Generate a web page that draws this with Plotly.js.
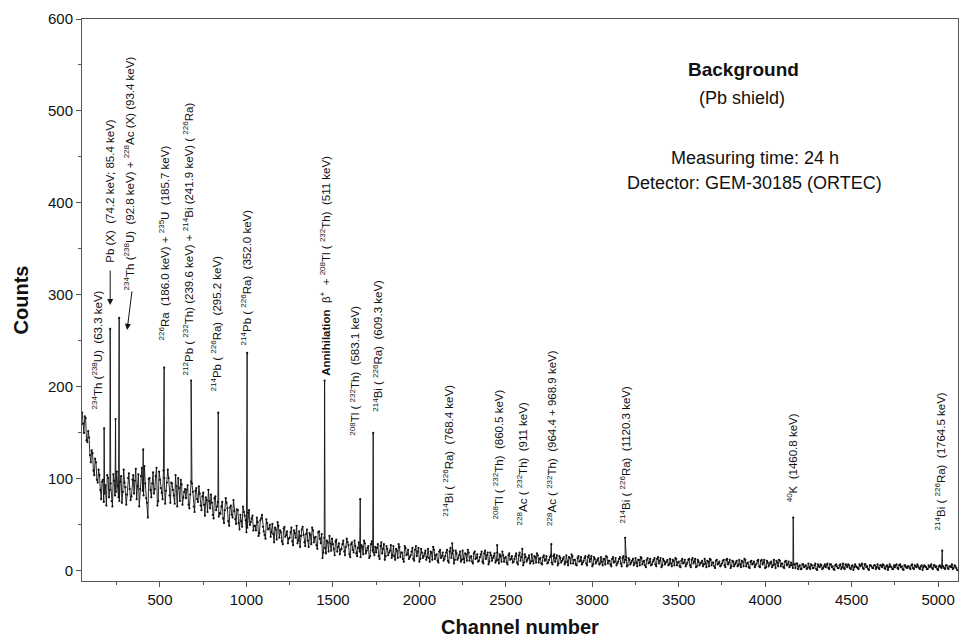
<!DOCTYPE html>
<html>
<head>
<meta charset="utf-8">
<script src="https://cdn.plot.ly/plotly-3.0.1.min.js"></script>
<style>html,body{margin:0;padding:0;background:#fff}</style>
</head>
<body>
<div id="chart" style="width:960px;height:639px"></div>
<script>
// Continuum counts, one value every 10 channels starting at channel 50
const startChannel = 50;
const channelStep = 10;
const counts = [
172,150,166,140,145,118,128,104,118,96,
104,78,99,84,71,101,88,76,105,82,
108,80,97,74,110,91,83,106,77,99,
84,111,92,70,103,87,114,79,58,101,
80,107,89,112,76,99,85,109,73,96,
101,74,95,82,104,70,90,99,72,86,
79,93,68,97,86,64,90,75,84,66,
85,60,77,88,68,74,57,81,70,59,
62,75,52,79,68,49,71,58,65,51,
66,45,54,70,60,42,63,50,57,44,
49,58,38,55,61,43,35,52,46,37,
51,31,45,53,36,42,29,48,39,30,
36,47,28,41,49,33,26,45,39,27,
45,26,39,47,31,37,24,43,30,14,
36,19,31,38,22,29,17,34,26,18,
24,33,17,35,28,15,31,20,27,16,
31,15,26,33,19,25,14,29,22,17,
20,29,13,31,24,12,27,17,22,14,
27,12,22,29,15,20,10,25,18,13,
17,25,11,27,21,10,24,14,19,12,
24,10,20,26,13,18,9,23,16,11,
16,23,9,25,19,8,22,12,17,10,
22,9,18,23,11,16,8,21,14,10,
15,21,8,22,17,7,20,11,16,9,
20,8,16,21,10,15,7,19,13,9,
13,19,7,20,15,6,18,10,14,8,
18,8,15,19,9,14,7,17,12,8,
12,17,7,18,14,6,16,9,13,7,
17,6,14,18,8,12,6,16,11,7,
11,16,6,17,13,5,15,8,12,7,
15,6,13,16,8,11,5,15,10,6,
10,15,5,16,12,5,14,7,11,6,
14,5,12,15,7,11,4,14,9,6,
10,14,5,15,11,4,13,7,10,6,
13,5,11,14,6,10,4,13,9,5,
9,13,4,14,10,4,12,6,9,5,
13,4,10,13,6,9,3,12,8,5,
8,12,4,13,9,3,11,5,9,5,
12,4,10,13,5,9,3,11,8,4,
8,12,4,12,9,3,11,5,9,4,
12,3,9,12,5,8,3,11,7,4,
9,3,7,8,2,6,2,7,5,2,
8,2,6,3,8,1,5,7,2,5,
4,8,2,7,5,1,7,3,6,2,
8,2,6,7,3,5,1,7,4,2,
5,8,2,7,5,1,6,3,6,2,
7,2,6,7,3,5,1,7,4,2,
4,7,2,7,5,1,6,3,5,2,
7,2,5,7,3,5,1,6,4,2,
4,7,2,6,5,1,6,3,5,2,
6,2,5,7,3,5,1
];

// Counts at the in-between channels (55, 65, 75, ...)
const midStartChannel = 55;
const countsMid = [
160,168,142,152,126,131,109,122,99,110,
88,97,75,93,104,80,95,70,98,86,
92,76,103,86,96,72,101,89,81,104,
98,78,105,89,112,82,95,74,100,88,
95,84,103,71,108,90,78,101,87,110,
82,96,88,73,92,101,76,94,80,89,
88,72,83,95,70,87,78,92,71,81,
72,80,64,76,83,61,79,66,75,63,
70,57,66,74,54,69,61,77,56,67,
52,61,48,64,55,47,66,53,60,49,
44,53,41,57,48,39,56,45,50,42,
40,47,34,49,44,32,46,37,43,35,
42,32,44,36,30,43,38,48,31,40,
33,41,29,44,36,28,42,35,40,20,
25,33,21,30,35,24,32,21,30,23,
29,21,26,31,18,29,23,33,19,25,
21,28,18,30,22,27,16,32,20,26,
25,16,27,19,29,16,24,20,28,17,
16,24,14,26,20,13,27,17,23,15,
21,13,23,16,25,13,20,16,22,15,
14,21,12,23,17,11,21,14,20,13,
20,11,21,14,22,12,19,14,21,12,
13,19,11,20,15,10,19,13,18,11,
18,10,19,13,20,10,17,14,19,11,
12,18,10,17,14,9,17,12,16,10,
16,9,17,11,18,9,15,12,17,10,
11,16,9,17,13,8,15,11,16,9,
15,9,16,10,17,8,14,11,15,9,
10,15,8,16,12,7,14,10,15,9,
14,8,15,10,16,7,13,10,14,8,
10,13,7,15,11,7,13,9,14,8,
13,8,14,9,15,6,12,9,13,8,
9,12,6,14,10,6,12,8,13,7,
12,7,13,8,14,6,11,9,12,7,
8,12,6,13,9,5,11,8,12,7,
12,6,12,8,13,5,10,8,11,7,
8,11,5,12,9,5,11,7,10,6,
11,6,12,7,12,5,10,7,11,6,
7,11,5,12,8,4,10,7,10,6,
11,5,11,7,12,4,9,7,10,6,
7,11,5,11,8,4,10,6,10,6,
6,7,3,8,5,2,7,4,6,3,
4,7,3,6,2,7,4,6,3,7,
6,3,7,4,2,6,5,3,7,4,
3,7,4,6,2,6,4,5,3,7,
6,3,7,4,2,6,5,3,6,4,
3,6,4,6,2,6,4,5,2,6,
6,3,6,4,2,6,4,5,3,6,
3,6,4,5,2,6,4,5,2,6,
5,3,6,4,2,5,4,5,3,6,
3,5,4,2,6,3
];

// Peak maxima (channel, counts)
const peakChannels = [177, 212, 243, 264, 403, 524, 680, 837, 1004, 1452, 1658, 1733, 2190, 2450, 2595, 2763, 3190, 4162, 5024];
const peakCounts   = [155, 263, 165, 275, 132, 221, 207, 172, 237, 207, 78, 150, 30, 28, 24, 29, 36, 58, 22];

// Peak labels
const labelTexts = [
  "<sup>234</sup>Th (<sup>238</sup>U)  (63.3 keV)",
  "Pb (X)  (74.2 keV; 85.4 keV)",
  "<sup>234</sup>Th (<sup>238</sup>U)  (92.8 keV) + <sup>228</sup>Ac (X) (93.4 keV)",
  "<sup>226</sup>Ra  (186.0 keV) + <sup>235</sup>U  (185.7 keV)",
  "<sup>212</sup>Pb ( <sup>232</sup>Th) (239.6 keV) + <sup>214</sup>Bi (241.9 keV) ( <sup>226</sup>Ra)",
  "<sup>214</sup>Pb ( <sup>226</sup>Ra)  (295.2 keV)",
  "<sup>214</sup>Pb ( <sup>226</sup>Ra)  (352.0 keV)",
  "<b>Annihilation</b>  β<sup>+</sup>  + <sup>208</sup>Tl ( <sup>232</sup>Th)  (511 keV)",
  "<sup>208</sup>Tl ( <sup>232</sup>Th)  (583.1 keV)",
  "<sup>214</sup>Bi ( <sup>226</sup>Ra)  (609.3 keV)",
  "<sup>214</sup>Bi ( <sup>226</sup>Ra)  (768.4 keV)",
  "<sup>208</sup>Tl ( <sup>232</sup>Th)  (860.5 keV)",
  "<sup>228</sup>Ac ( <sup>232</sup>Th)  (911 keV)",
  "<sup>228</sup>Ac ( <sup>232</sup>Th)  (964.4 + 968.9 keV)",
  "<sup>214</sup>Bi ( <sup>226</sup>Ra)  (1120.3 keV)",
  "<sup>40</sup>K  (1460.8 keV)",
  "<sup>214</sup>Bi ( <sup>226</sup>Ra)  (1764.5 keV)"
];
const labelChannels = [137, 206, 322, 524, 663, 825, 998, 1455, 1623, 1756, 2167, 2456, 2595, 2763, 3190, 4156, 5012];
const labelBase     = [173, 333, 303, 248, 210, 193, 243, 210, 145, 171, 57, 54, 47, 47, 49, 72, 42];

// Build the series: continuum points plus peak maxima, sorted by channel
const pts = counts.map((c, i) => [startChannel + i * channelStep, c]);
countsMid.forEach((c, i) => pts.push([midStartChannel + i * channelStep, c]));
peakChannels.forEach((ch, i) => pts.push([ch, peakCounts[i]]));
pts.sort((a, b) => a[0] - b[0]);
const xs = pts.map(p => p[0]);
const ys = pts.map(p => p[1]);

const labelFont = {family: "Liberation Sans, Arial, sans-serif", size: 11.5, color: "#111"};
const annotations = labelTexts.map((t, i) => ({
  x: labelChannels[i], y: labelBase[i], xref: "x", yref: "y",
  text: t, textangle: -90, showarrow: false,
  xanchor: "center", yanchor: "bottom", font: labelFont
}));

// arrows
annotations.push({x: 212, y: 289, xref: "x", yref: "y", ax: 0, ay: -36,
  text: "", showarrow: true, arrowhead: 2, arrowsize: 1.2, arrowwidth: 1, arrowcolor: "#111"});
annotations.push({x: 310, y: 262, xref: "x", yref: "y", ax: 5, ay: -40,
  text: "", showarrow: true, arrowhead: 2, arrowsize: 1.2, arrowwidth: 1, arrowcolor: "#111"});

const infoFont = {family: "Liberation Sans, Arial, sans-serif", size: 18, color: "#111"};
annotations.push({x: 3872, y: 545, xref: "x", yref: "y", text: "<b>Background</b>", showarrow: false,
  font: {family: "Liberation Sans, Arial, sans-serif", size: 19, color: "#111"}});
annotations.push({x: 3866, y: 514, xref: "x", yref: "y", text: "(Pb shield)", showarrow: false, font: infoFont});
annotations.push({x: 3941, y: 449, xref: "x", yref: "y", text: "Measuring time: 24 h", showarrow: false, font: infoFont});
annotations.push({x: 3941, y: 422, xref: "x", yref: "y", text: "Detector: GEM-30185 (ORTEC)", showarrow: false, font: infoFont});

const trace = {
  x: xs, y: ys, type: "scatter", mode: "lines+markers",
  line: {color: "#111", width: 0.9},
  marker: {color: "#111", size: 2.2},
  hoverinfo: "x+y"
};

const axisCommon = {
  showgrid: false, zeroline: false, showline: true, linecolor: "#555", linewidth: 1,
  mirror: true, ticks: "outside", ticklen: 5, tickcolor: "#555",
  tickfont: {family: "Liberation Sans, Arial, sans-serif", size: 15, color: "#111"}
};

const layout = {
  width: 960, height: 639,
  margin: {l: 82, r: 2, t: 19, b: 58},
  paper_bgcolor: "#fff", plot_bgcolor: "#fff",
  showlegend: false,
  xaxis: Object.assign({}, axisCommon, {
    range: [49, 5115], tickmode: "linear", tick0: 0, dtick: 500,
    minor: {ticks: "outside", ticklen: 3, dtick: 250, tick0: 0, tickcolor: "#555"},
    title: {text: "<b>Channel number</b>", standoff: 12,
      font: {family: "Liberation Sans, Arial, sans-serif", size: 20, color: "#111"}},
    tickfont: {family: "Liberation Sans Narrow, Liberation Sans, Arial, sans-serif", size: 15, color: "#111"}
  }),
  yaxis: Object.assign({}, axisCommon, {
    range: [-11, 600], tickmode: "linear", tick0: 0, dtick: 100,
    minor: {ticks: "outside", ticklen: 3, dtick: 50, tick0: 0, tickcolor: "#555"},
    title: {text: "<b>Counts</b>", standoff: 13,
      font: {family: "Liberation Sans, Arial, sans-serif", size: 20, color: "#111"}}
  }),
  annotations: annotations
};

Plotly.newPlot("chart", [trace], layout, {displayModeBar: false, staticPlot: true});
</script>
</body>
</html>
